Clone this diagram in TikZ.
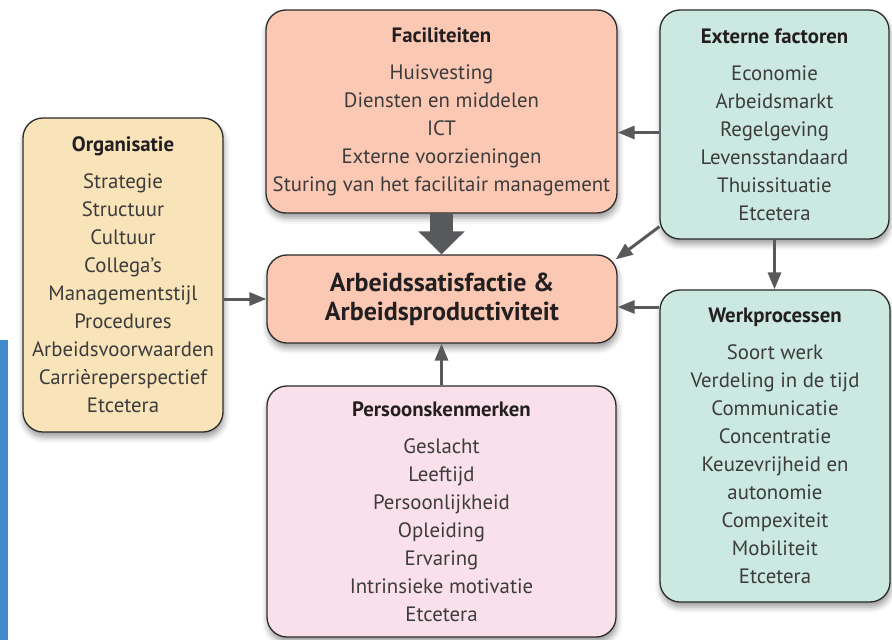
\documentclass[tikz,border=0pt]{standalone}
\usepackage{fontspec}
\setmainfont{PT Sans}
\usetikzlibrary{arrows.meta,shadows.blur}
\definecolor{orgkleur}{HTML}{F9E3B9}
\definecolor{fackleur}{HTML}{FBC8B4}
\definecolor{extkleur}{HTML}{CBE8E1}
\definecolor{perskleur}{HTML}{FAE0EB}
\definecolor{pijlgrijs}{HTML}{58595B}
\definecolor{randgrijs}{HTML}{2B2B2B}
\definecolor{tekstgrijs}{HTML}{3C3C3C}
\definecolor{kopzwart}{HTML}{231F20}
\definecolor{balkblauw}{HTML}{3F8BC9}
\newcommand{\kop}[1]{{\bfseries\color{kopzwart}#1}\\[9pt]}

\begin{document}
\begin{tikzpicture}[x=1pt,y=-1pt,
    vak/.style={draw=randgrijs,line width=1.3pt,rounded corners=20pt,align=center,inner sep=0pt,
      text=tekstgrijs,font=\fontsize{20.8}{28}\selectfont,
      blur shadow={shadow xshift=1pt,shadow yshift=-5pt,shadow blur radius=6pt,shadow opacity=40}},
    pijl/.style={draw=pijlgrijs,line width=3pt,-{Triangle[length=17pt,width=13pt]}}]
    \useasboundingbox(0,0)rectangle(892,640);
    \fill[balkblauw](0,340)rectangle(8,640);
    \node[vak,fill=orgkleur,minimum width=200pt,minimum height=314pt](org)at(123,275){\kop{Organisatie}Strategie\\Structuur\\Cultuur\\Collega’s\\Managementstijl\\Procedures\\Arbeidsvoorwaarden\\Carrièreperspectief\\Etcetera};
    \node[vak,fill=fackleur,minimum width=351pt,minimum height=203pt](fac)at(441.5,111.5){\kop{Faciliteiten}Huisvesting\\Diensten en middelen\\ICT\\Externe voorzieningen\\Sturing van het facilitair management};
    \node[vak,fill=extkleur,minimum width=229pt,minimum height=229pt](ext)at(774.5,124.5){\kop{Externe factoren}Economie\\Arbeidsmarkt\\Regelgeving\\Levensstandaard\\Thuissituatie\\Etcetera};
    \node[vak,fill=fackleur,minimum width=350pt,minimum height=88pt,text=kopzwart,font=\fontsize{26}{29}\selectfont\bfseries](mid)at(442,299){Arbeidssatisfactie \&\\Arbeidsproductiviteit};
    \node[vak,fill=extkleur,minimum width=230pt,minimum height=312pt](werk)at(775,446){\kop{Werkprocessen}Soort werk\\Verdeling in de tijd\\Communicatie\\Concentratie\\Keuzevrijheid en\\autonomie\\Compexiteit\\Mobiliteit\\Etcetera};
    \node[vak,fill=perskleur,minimum width=349pt,minimum height=251pt](pers)at(441.5,511.5){\kop{Persoonskenmerken}Geslacht\\Leeftijd\\Persoonlijkheid\\Opleiding\\Ervaring\\Intrinsieke motivatie\\Etcetera};
    \draw[draw=pijlgrijs,line width=23pt,-{Triangle[length=23pt,width=45pt]}](fac.south)--(fac.south |- mid.north);
    \draw[pijl](org.east |- mid.west)--(mid.west);
    \draw[pijl]([yshift=-8pt]ext.west)--([yshift=-8pt]ext.west -| fac.east);
    \draw[pijl]([yshift=13pt]ext.south west)--([xshift=-2pt,yshift=-5pt]mid.north east);
    \draw[pijl](ext.south)--(ext.south |- werk.north);
    \draw[pijl]([yshift=-8pt]mid.east -| werk.west)--([yshift=-8pt]mid.east);
    \draw[pijl](pers.north)--(pers.north |- mid.south);
\end{tikzpicture}
\end{document}
